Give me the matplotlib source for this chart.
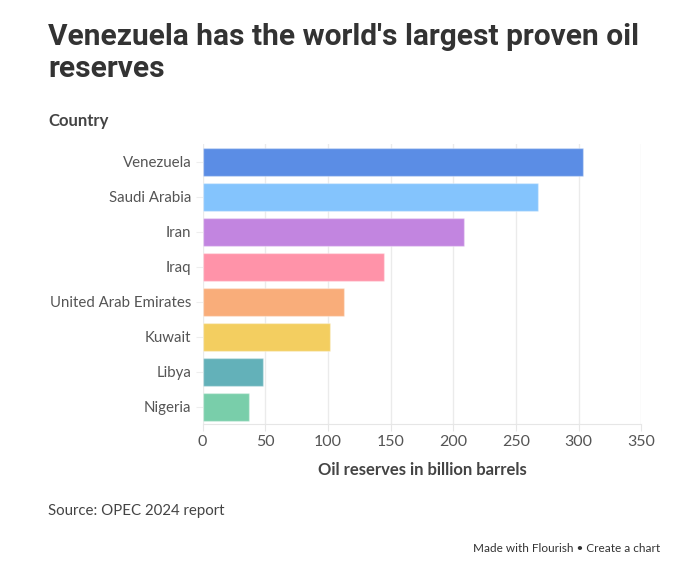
import matplotlib
matplotlib.use("Agg")
import matplotlib.pyplot as plt

countries = ["Venezuela", "Saudi Arabia", "Iran", "Iraq", "United Arab Emirates", "Kuwait", "Libya", "Nigeria"]
reserves = [303.2, 267.2, 208.6, 145.0, 113.0, 101.5, 48.4, 37.3]
colors = ["#5b8de5", "#84c4fd", "#c285e0", "#ff93a9", "#f9ad7a", "#f3ce60", "#63b1b9", "#79ceaa"]
xticks = [0, 50, 100, 150, 200, 250, 300, 350]

fig = plt.figure(figsize=(6.83, 5.63), dpi=100)
ax = fig.add_axes([0.2965, 0.2464, 0.6425, 0.4976])

ypos = list(range(len(countries)))
ax.barh(ypos, reserves, height=0.8, color=colors, edgecolor=(1, 1, 1, 0.35), linewidth=1.0, zorder=3)
ax.set_ylim(len(countries) - 0.5, -0.5)
ax.set_xlim(0, 350)
ax.set_xticks(xticks)
ax.set_xticklabels([str(t) for t in xticks])
ax.set_yticks(ypos)
ax.set_yticklabels(countries)

ax.grid(axis="x", color="#ebebeb", linewidth=1, zorder=0)
for s in ["top", "right", "left"]:
    ax.spines[s].set_visible(False)
ax.spines["bottom"].set_color("#e6e6e6")
ax.tick_params(axis="x", length=5, color="#e6e6e6", labelsize=11.5, labelcolor="#555555", pad=3)
ax.tick_params(axis="y", length=5, color="#eeeeee", labelsize=10.8, labelcolor="#555555", pad=3)
for lab in ax.get_xticklabels() + ax.get_yticklabels():
    lab.set_family(["Lato", "DejaVu Sans"])

ax.set_xlabel("Oil reserves in billion barrels", fontsize=12, fontweight="bold", color="#444444",
              family=["Lato", "DejaVu Sans"], labelpad=9)

fig.text(48 / 683, 1 - 53 / 563, "Venezuela has the world's largest proven oil\nreserves",
         fontsize=21.5, fontweight="bold", color="#333333", va="center", ha="left",
         family=["Roboto", "DejaVu Sans"], linespacing=1.2)
fig.text(48 / 683, 1 - 121 / 563, "Country", fontsize=12, fontweight="bold", color="#444444",
         va="center", ha="left", family=["Lato", "DejaVu Sans"])
fig.text(48 / 683, 1 - 511 / 563, "Source: OPEC 2024 report", fontsize=10.8, color="#444444",
         va="center", ha="left", family=["Lato", "DejaVu Sans"])
fig.text(660 / 683, 1 - 549 / 563, "Made with Flourish \u2022 Create a chart", fontsize=8.5, color="#333333",
         va="center", ha="right", family=["Lato", "DejaVu Sans"])

fig.savefig("out.png", dpi=100, facecolor="white")
